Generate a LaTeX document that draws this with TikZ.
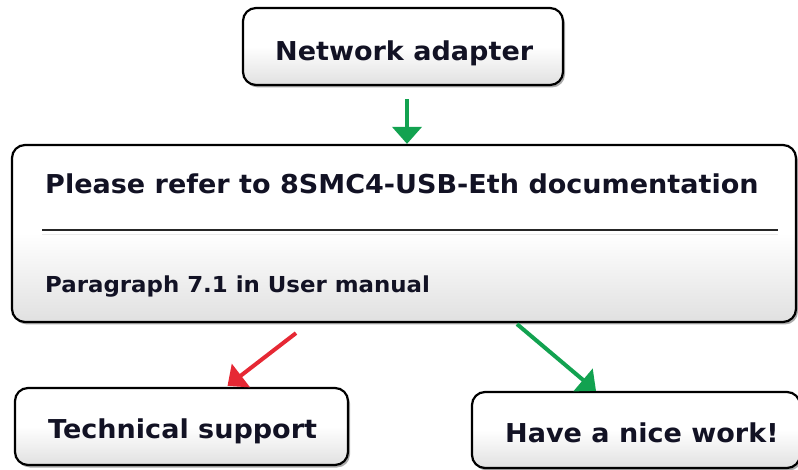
\documentclass[tikz,border=0pt]{standalone}
\usepackage{fontspec}
\setmainfont[FakeStretch=1.04]{DejaVu Sans}
\usetikzlibrary{arrows.meta,shadows}
\definecolor{arrgreen}{RGB}{18,162,80}
\definecolor{arrred}{RGB}{230,40,52}
\definecolor{txt}{RGB}{18,18,36}
\tikzset{
  box/.style={draw=black, line width=2.2pt, rounded corners=13pt, top color=white, bottom color=black!12, middle color=white,
    drop shadow={shadow xshift=2pt, shadow yshift=-2.5pt, fill=black!55, opacity=0.6}, inner sep=0pt},
  lbl/.style={font=\bfseries\fontsize{26}{30}\selectfont, text=txt, inner sep=0pt, anchor=base west},
  small/.style={font=\bfseries\fontsize{22}{26}\selectfont},
  arr/.style={line width=4pt, -{Triangle[width=29pt,length=17pt]}},
}
\begin{document}
\begin{tikzpicture}[x=1pt,y=-1pt]
\useasboundingbox (0,0) rectangle (798,470);
\node[box, minimum width=320pt, minimum height=77pt] (top) at (403,46.5) {};
\node[lbl] (toptxt) at (275,61) {Network adapter};
\node[box, minimum width=784pt, minimum height=177pt] (main) at (404,233.5) {};
\node[lbl] (l1) at (45,194) {Please refer to 8SMC4-USB-Eth documentation};
\draw[line width=1.8pt, black!85] (42,230) -- (778,230);
\draw[line width=1pt, black!8] (42,235) -- (778,235);
\node[lbl, small] (l3) at (45,293) {Paragraph 7.1 in User manual};
\node[box, minimum width=333pt, minimum height=77pt] (tech) at (181.5,426.5) {};
\node[lbl] (techtxt) at (48,438) {Technical support};
\node[box, minimum width=328pt, minimum height=76pt] (nice) at (636,430) {};
\node[lbl] (nicetxt) at (505,442) {Have a nice work!};
\draw[arr, arrgreen] ([xshift=4pt,yshift=-13pt]top.south) -- ([xshift=3pt]main.north);
\draw[arr, arrred] ([xshift=-108pt,yshift=-10pt]main.south) -- ([xshift=46pt,yshift=1pt]tech.north);
\draw[arr, arrgreen] ([xshift=113pt,yshift=-1pt]main.south) -- ([xshift=-40pt]nice.north);
\end{tikzpicture}
\end{document}
